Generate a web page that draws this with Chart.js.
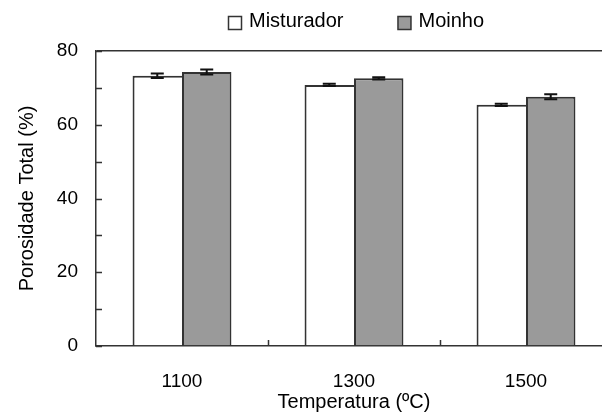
<!DOCTYPE html>
<html>
<head>
<meta charset="utf-8">
<script src="https://cdn.jsdelivr.net/npm/chart.js@4"></script>
<style>
  html, body { margin: 0; padding: 0; background: #fff; overflow: hidden; }
  #wrap { width: 612px; height: 412px; }
</style>
</head>
<body>
<div id="wrap"><canvas id="myChart" width="612" height="412"></canvas></div>
<script>
// data
var categories = ['1100', '1300', '1500'];
var misturador = [73.3, 70.8, 65.4];
var misturadorErr = [0.6, 0.3, 0.3];
var moinho = [74.3, 72.6, 67.6];
var moinhoErr = [0.7, 0.3, 0.7];
var yMin = 0, yMax = 80, yStep = 10, yLabelEvery = 20;

var FONT = "'Liberation Sans', Arial, sans-serif";
var LINE = '#333333';

// error bars drawn through the y scale
var errorBars = {
  id: 'errorBars',
  afterDatasetsDraw: function(chart) {
    var ctx = chart.ctx, y = chart.scales.y;
    chart.data.datasets.forEach(function(ds, i) {
      var meta = chart.getDatasetMeta(i);
      meta.data.forEach(function(bar, j) {
        var v = ds.data[j], e = ds.errors[j];
        var yTop = y.getPixelForValue(v + e), yBot = y.getPixelForValue(v - e);
        ctx.save();
        ctx.strokeStyle = '#111';
        ctx.lineWidth = 2;
        ctx.beginPath();
        ctx.moveTo(bar.x, yTop); ctx.lineTo(bar.x, yBot);
        ctx.moveTo(bar.x - 6.5, yTop); ctx.lineTo(bar.x + 6.5, yTop);
        ctx.moveTo(bar.x - 6.5, yBot); ctx.lineTo(bar.x + 6.5, yBot);
        ctx.stroke();
        ctx.restore();
      });
    });
  }
};

// tick marks pointing into the plot
var innerTicks = {
  id: 'innerTicks',
  afterDraw: function(chart) {
    var ctx = chart.ctx, x = chart.scales.x, y = chart.scales.y, a = chart.chartArea;
    ctx.save();
    ctx.strokeStyle = LINE;
    ctx.lineWidth = 1.5;
    ctx.beginPath();
    for (var v = yMin; v <= yMax; v += yStep) {
      var py = Math.round(y.getPixelForValue(v)) + 0.5;
      ctx.moveTo(a.left, py); ctx.lineTo(a.left + 6, py);
    }
    for (var i = 0; i < categories.length - 1; i++) {
      var px = Math.round((x.getPixelForTick(i) + x.getPixelForTick(i + 1)) / 2) + 0.5;
      ctx.moveTo(px, a.bottom); ctx.lineTo(px, a.bottom - 6);
    }
    ctx.stroke();
    ctx.restore();
  }
};

// legend with wide spacing between the two items
var legendTop = {
  id: 'legendTop',
  afterDraw: function(chart) {
    var ctx = chart.ctx;
    var startX = 228, boxY = 16, box = 13, gap = 8, itemGap = 54;
    ctx.save();
    ctx.font = '20px ' + FONT;
    ctx.textBaseline = 'middle';
    ctx.fillStyle = '#000';
    var cx = startX;
    chart.data.datasets.forEach(function(ds) {
      ctx.fillStyle = ds.backgroundColor;
      ctx.fillRect(cx + 0.5, boxY + 0.5, box, box);
      ctx.strokeStyle = LINE;
      ctx.lineWidth = 1.5;
      ctx.strokeRect(cx + 0.5, boxY + 0.5, box, box);
      ctx.fillStyle = '#000';
      ctx.fillText(ds.label, cx + box + gap, boxY + box / 2 - 1);
      cx += box + gap + ctx.measureText(ds.label).width + itemGap;
    });
    ctx.restore();
  }
};

var ctx = document.getElementById('myChart').getContext('2d');
var myChart = new Chart(ctx, {
  type: 'bar',
  data: {
    labels: categories,
    datasets: [{
      label: 'Misturador',
      data: misturador,
      errors: misturadorErr,
      backgroundColor: '#ffffff',
      borderColor: LINE,
      borderWidth: { left: 2, top: 2, right: 0, bottom: 0 }
    }, {
      label: 'Moinho',
      data: moinho,
      errors: moinhoErr,
      backgroundColor: '#9a9a9a',
      borderColor: LINE,
      borderWidth: 2
    }]
  },
  options: {
    responsive: false,
    animation: false,
    datasets: { bar: { categoryPercentage: 0.575, barPercentage: 1.0 } },
    layout: { padding: { top: 51, left: 0, right: 0, bottom: 0 } },
    plugins: { legend: { display: false }, tooltip: { enabled: false } },
    scales: {
      x: {
        grid: { display: false },
        border: { display: true, color: LINE, width: 1.5 },
        ticks: { color: '#000', padding: 16, font: { family: FONT, size: 19 } },
        title: {
          display: true, text: 'Temperatura (ºC)', color: '#000',
          font: { family: FONT, size: 20, lineHeight: 1 }, padding: { top: 0, bottom: 0 }
        },
        afterFit: function(s) { s.height = 66; }
      },
      y: {
        min: yMin, max: yMax,
        grid: {
          drawTicks: false,
          lineWidth: 1.5,
          color: function(c) { return c.tick && c.tick.value === yMax ? LINE : 'rgba(0,0,0,0)'; }
        },
        border: { display: true, color: LINE, width: 1.5 },
        ticks: {
          stepSize: yStep, padding: 18, color: '#000',
          font: { family: FONT, size: 19 },
          callback: function(v) { return v % yLabelEvery === 0 ? v : ''; }
        },
        title: {
          display: true, text: 'Porosidade Total (%)', color: '#000',
          font: { family: FONT, size: 20, lineHeight: 1.2 }, padding: { top: 15, bottom: 0 }
        },
        afterFit: function(s) { s.width = 96; }
      }
    }
  },
  plugins: [errorBars, innerTicks, legendTop]
});
</script>
</body>
</html>
